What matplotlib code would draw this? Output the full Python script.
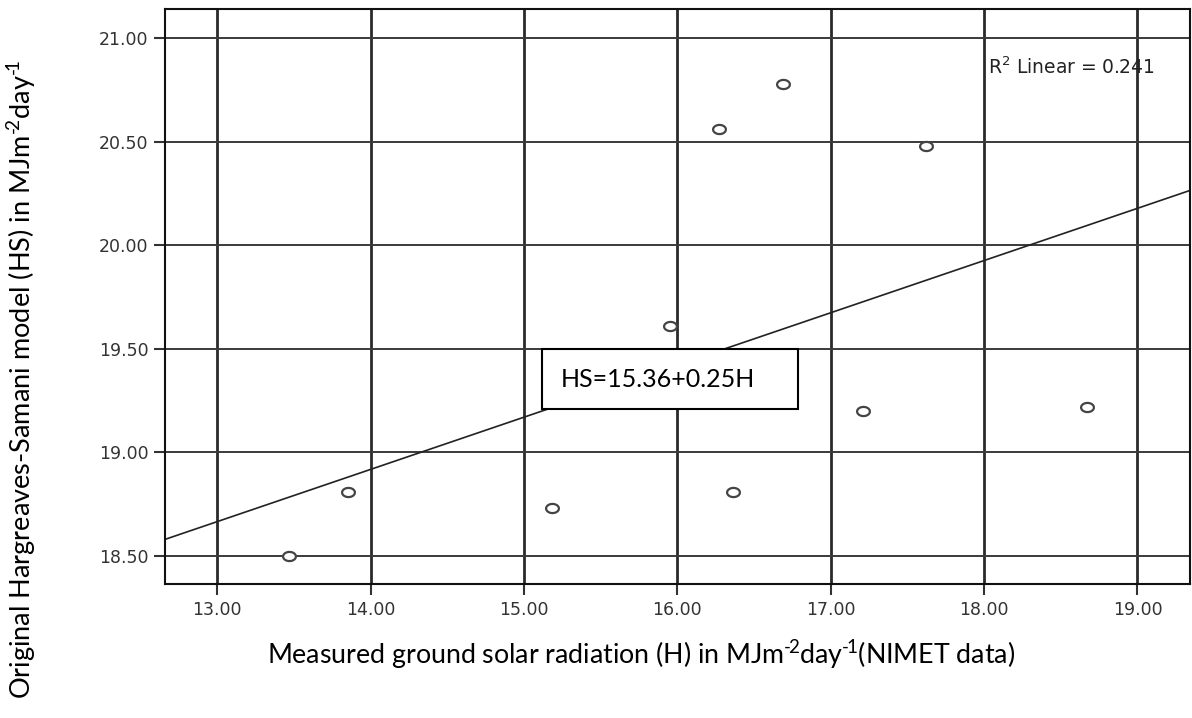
import matplotlib
matplotlib.use("Agg")
import matplotlib.pyplot as plt
from matplotlib.path import Path
from matplotlib.patches import Rectangle
import numpy as np

# measured H (x) vs original HS model (y)
h_measured = [13.47, 13.85, 15.18, 15.955, 16.27, 16.36, 16.69, 17.21, 17.62, 18.67]
hs_model = [18.50, 18.81, 18.73, 19.61, 20.56, 18.81, 20.78, 19.20, 20.48, 19.22]

fit_intercept = 15.39
fit_slope = 0.252
r2_text = "R$^{2}$ Linear = 0.241"
eq_text = "HS=15.36+0.25H"

x_ticks = [13.0, 14.0, 15.0, 16.0, 17.0, 18.0, 19.0]
y_ticks = [18.5, 19.0, 19.5, 20.0, 20.5, 21.0]

unit = "MJm$^{\u2010\\!2}$day$^{\u2010\\!1}$"

plt.rcParams["mathtext.fontset"] = "custom"
plt.rcParams["mathtext.rm"] = "Lato"
plt.rcParams["mathtext.it"] = "Lato"

fig = plt.figure(figsize=(11.92, 7.18), dpi=100)
ax = fig.add_axes([0.1384, 0.1866, 0.8596, 0.8009])

xlim = (12.66, 19.34)
ax.set_xlim(*xlim)
ax.set_ylim(18.365, 21.14)

ax.set_xticks(x_ticks)
ax.set_yticks(y_ticks)
ax.set_xticklabels([f"{v:.2f}" for v in x_ticks])
ax.set_yticklabels([f"{v:.2f}" for v in y_ticks])
ax.tick_params(axis="both", direction="out", length=8, width=1.5, color="#333333",
               labelsize=12.5, labelcolor="#333333", pad=4)
for lbl in ax.get_xticklabels() + ax.get_yticklabels():
    lbl.set_fontfamily("DejaVu Sans")

# grid: vertical darker, horizontal thinner
for xv in x_ticks:
    ax.axvline(xv, color="#2a2a2a", linewidth=2.0, zorder=1)
for yv in y_ticks:
    ax.axhline(yv, color="#3a3a3a", linewidth=1.4, zorder=1)

for sp in ax.spines.values():
    sp.set_linewidth(1.5)
    sp.set_color("#111111")

# fit line
xs = np.array(xlim)
ax.plot(xs, fit_intercept + fit_slope * xs, color="#222222", linewidth=1.2, zorder=2)

# stretched open circle markers (SPSS style)
t = np.linspace(0, 2 * np.pi, 60)
ellipse = Path(np.c_[1.4 * np.cos(t), np.sin(t)])
ax.scatter(h_measured, hs_model, marker=ellipse, s=85, facecolors="white",
           edgecolors="#444444", linewidths=1.6, zorder=3)

ax.text(0.885, 0.899, r2_text, transform=ax.transAxes, ha="center", va="center",
        fontsize=13.5, color="#222222", family="DejaVu Sans", zorder=4,
        math_fontfamily="dejavusans")

# equation box
ax.add_patch(Rectangle((0.368, 0.304), 0.25, 0.104, transform=ax.transAxes,
                       facecolor="white", edgecolor="black", linewidth=1.5, zorder=5))
ax.text(0.386, 0.356, eq_text, transform=ax.transAxes, ha="left", va="center",
        fontsize=18, family="Lato", color="black", zorder=6)

fig.text(0.538, 0.088, "Measured ground solar radiation (H) in " + unit + "(NIMET data)",
         ha="center", va="center", fontsize=19.3, family="Lato")
fig.text(0.018, 0.472, "Original Hargreaves-Samani model (HS) in " + unit,
         ha="center", va="center", rotation=90, fontsize=19.5, family="Lato")

fig.savefig("out.png", dpi=100, facecolor="white")
